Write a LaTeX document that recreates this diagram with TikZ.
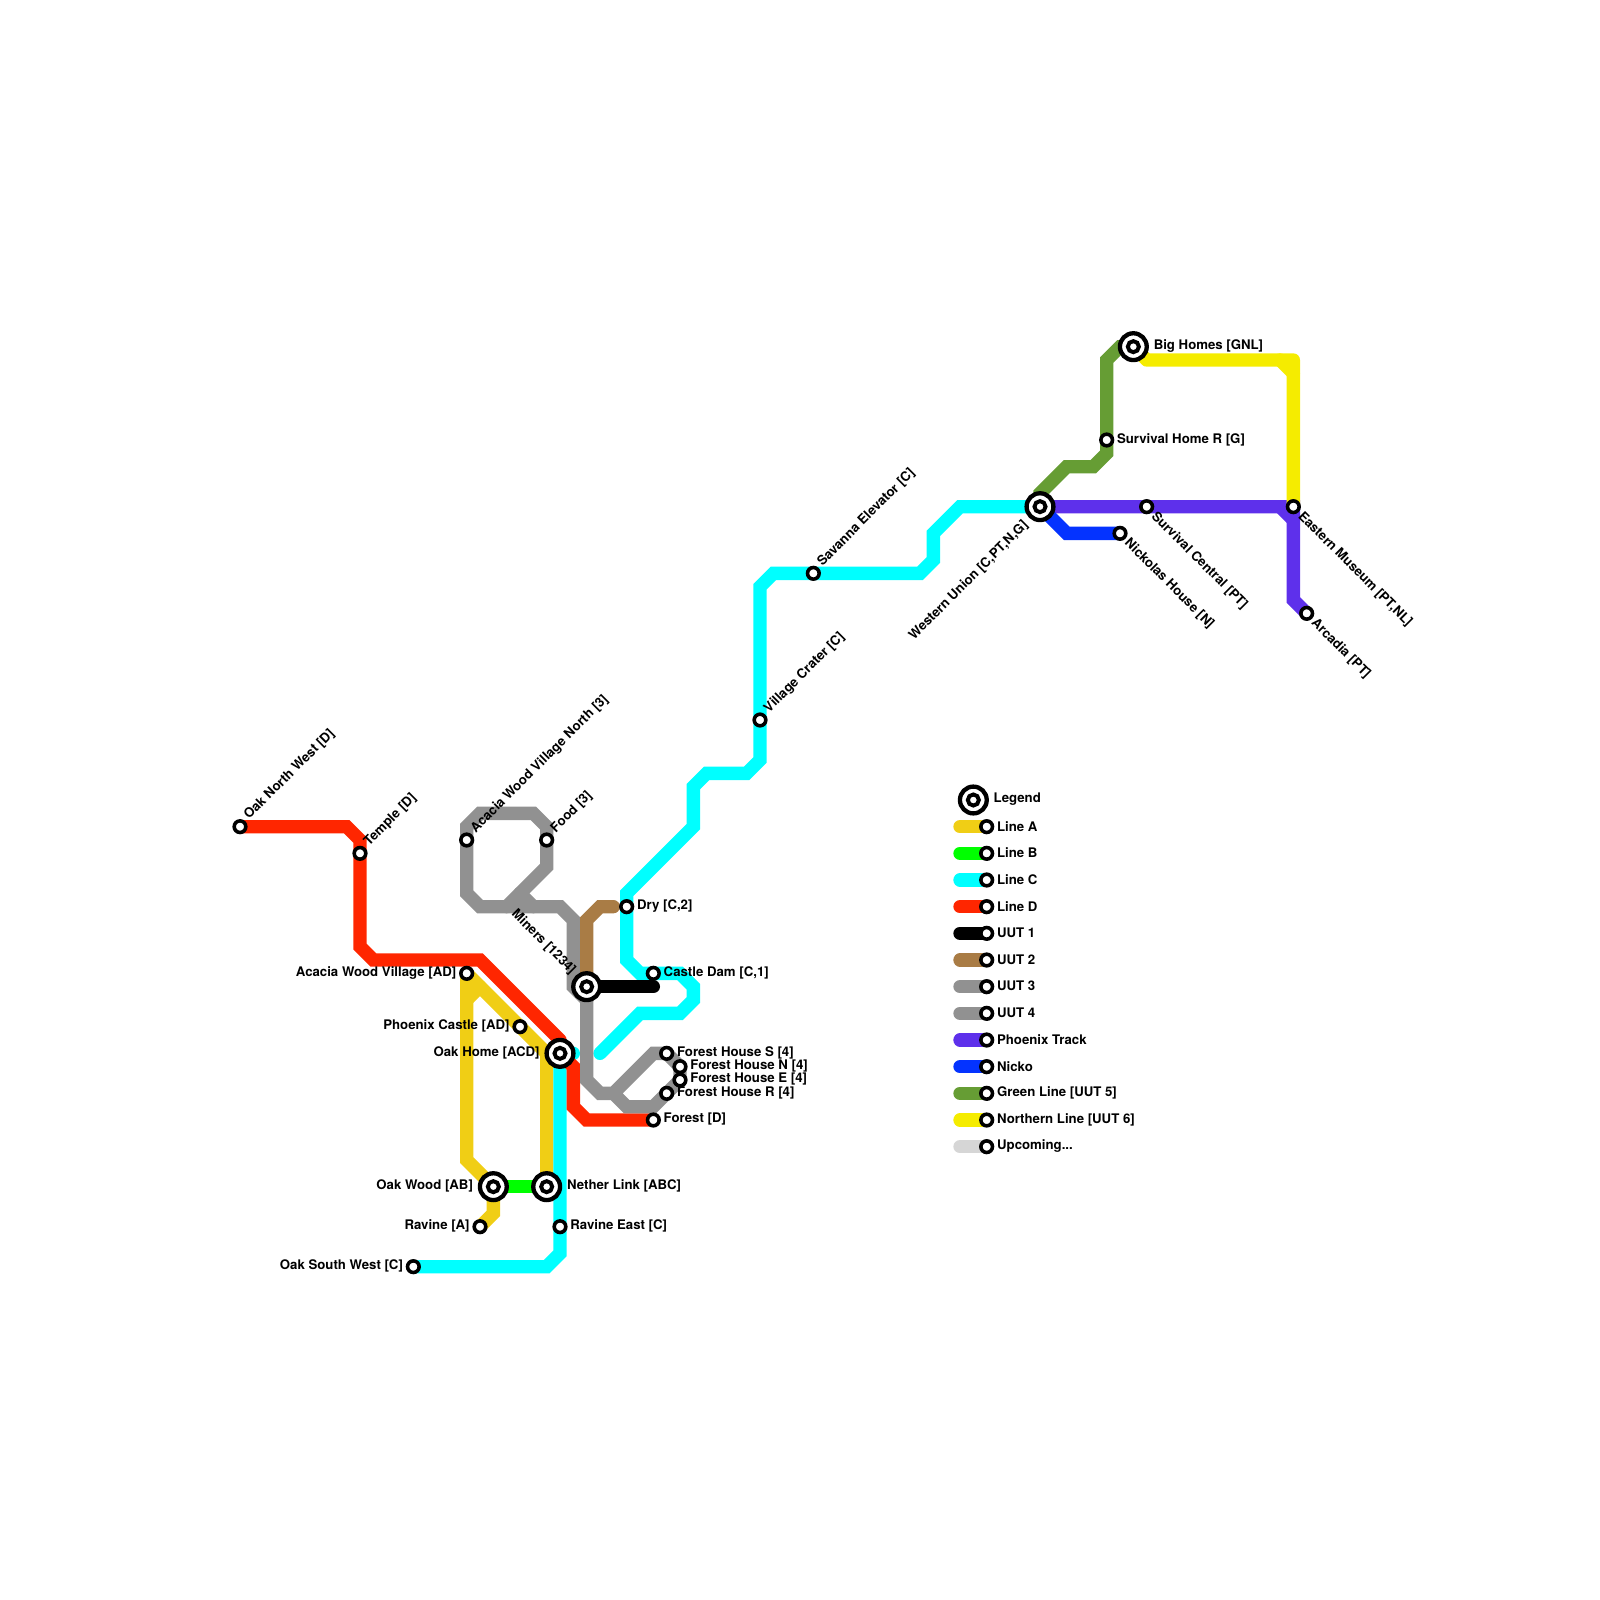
\documentclass[tikz,border=0pt]{standalone}
\usepackage{fontspec}
\setmainfont{TeX Gyre Heros}
\usetikzlibrary{backgrounds}

\definecolor{lineA}{HTML}{F0CE15}
\definecolor{lineB}{HTML}{00FF00}
\definecolor{lineC}{HTML}{00FFFF}
\definecolor{lineD}{HTML}{FF2600}
\definecolor{uutTwo}{HTML}{A97C45}
\definecolor{uutGray}{HTML}{919191}
\definecolor{phoenix}{HTML}{5E30EB}
\definecolor{nicko}{HTML}{0433FF}
\definecolor{greenLine}{HTML}{669D34}
\definecolor{northern}{HTML}{F5EC00}
\definecolor{upcoming}{HTML}{D6D6D6}

\tikzset{
  stop/.style={circle,draw=black,fill=white,line width=1.9pt,minimum size=6.2pt,inner sep=0pt,outer sep=0pt},
  hub/.style={circle,draw=black,fill=white,line width=2.3pt,minimum size=14.3pt,inner sep=0pt,outer sep=0pt},
  hubin/.style={stop,line width=2.1pt,minimum size=5.9pt},
  metro/.style={line width=.25cm,line cap=round,miter limit=4},
  txt/.style={inner sep=0pt,outer sep=0pt},
  lblE/.style={txt,anchor=west,shift={(.78,-.04)}},
  lblW/.style={txt,anchor=east,shift={(-.78,-.04)}},
  lblEE/.style={txt,anchor=west,shift={(1.53,-.04)}},
  lblWW/.style={txt,anchor=east,shift={(-1.53,-.04)}},
  lblNE/.style={txt,anchor=west,shift={(.5,-.7)},rotate=45},
  lblSE/.style={txt,anchor=west,shift={(.5,.6)},rotate=-45},
  lblNW/.style={txt,anchor=east,shift={(-1,-1.1)},rotate=-45},
  lblSW/.style={txt,anchor=east,shift={(-1.05,1.25)},rotate=45},
}

\begin{document}
\begin{tikzpicture}[x=.25cm,y=-.25cm,font=\bfseries\fontsize{7.05}{8}\selectfont]
  \useasboundingbox (0,0) rectangle (120,120);
  % plain stops
  \foreach \name/\x/\y/\title/\where in {
    oakNW/18/62/{Oak North West [D]}/lblNE,
    temple/27/64/{Temple [D]}/lblNE,
    acaciaN/35/63/{Acacia Wood Village North [3]}/lblNE,
    food/41/63/{Food [3]}/lblNE,
    dry/47/68/{Dry [C,2]}/lblE,
    castleDam/49/73/{Castle Dam [C,1]}/lblE,
    acacia/35/73/{Acacia Wood Village [AD]}/lblW,
    phoenixCastle/39/77/{Phoenix Castle [AD]}/lblW,
    forestS/50/79/{Forest House S [4]}/lblE,
    forestN/51/80/{Forest House N [4]}/lblE,
    forestE/51/81/{Forest House E [4]}/lblE,
    forestR/50/82/{Forest House R [4]}/lblE,
    forest/49/84/{Forest [D]}/lblE,
    ravine/36/92/{Ravine [A]}/lblW,
    ravineE/42/92/{Ravine East [C]}/lblE,
    oakSW/31/95/{Oak South West [C]}/lblW,
    crater/57/54/{Village Crater [C]}/lblNE,
    savanna/61/43/{Savanna Elevator [C]}/lblNE,
    survHome/83/33/{Survival Home R [G]}/lblE,
    survCentral/86/38/{Survival Central [PT]}/lblSE,
    nickolas/84/40/{Nickolas House [N]}/lblSE,
    eastern/97/38/{Eastern Museum [PT,NL]}/lblSE,
    arcadia/98/46/{Arcadia [PT]}/lblSE%
  } {
    \node[stop] (\name) at (\x,\y) {};
    \node[\where] (\name Txt) at (\name) {\title};
  }
  % interchanges
  \foreach \name/\x/\y/\title/\where in {
    miners/44/74/{Miners [1234]}/lblNW,
    oakHome/42/79/{Oak Home [ACD]}/lblWW,
    oakWood/37/89/{Oak Wood [AB]}/lblWW,
    netherLink/41/89/{Nether Link [ABC]}/lblEE,
    westUnion/78/38/{Western Union [C,PT,N,G]}/lblSW,
    bigHomes/85/26/{Big Homes [GNL]}/lblEE,
    legendHub/73/60/{Legend}/lblEE%
  } {
    \node[hub] (\name) at (\x,\y) {};
    \node[hubin] (\name In) at (\name) {};
    \node[\where] (\name Txt) at (\name) {\title};
  }
  % legend
  \foreach \name/\y/\col/\title in {
    keyA/62/lineA/{Line A},
    keyB/64/lineB/{Line B},
    keyC/66/lineC/{Line C},
    keyD/68/lineD/{Line D},
    keyOne/70/black/{UUT 1},
    keyTwo/72/uutTwo/{UUT 2},
    keyThree/74/uutGray/{UUT 3},
    keyFour/76/uutGray/{UUT 4},
    keyPhoenix/78/phoenix/{Phoenix Track},
    keyNicko/80/nicko/{Nicko},
    keyGreen/82/greenLine/{Green Line [UUT 5]},
    keyNorth/84/northern/{Northern Line [UUT 6]},
    keyNext/86/upcoming/{Upcoming...}%
  } {
    \node[stop] (\name) at (74,\y) {};
    \node[lblE] (\name Txt) at (\name) {\title};
    \begin{scope}[on background layer]
      \draw[metro,\col] (72,\y) -- (\name.center);
    \end{scope}
  }
  \begin{scope}[on background layer]
    % Line A
    \draw[metro,lineA] (acacia.center) -- (phoenixCastle.center) -- (41,79) -- (netherLink.center);
    \draw[metro,lineA] (acacia.center) -- (35,87) -- (oakWood.center) -- (37,91) -- (ravine.center);
    \draw[metro,lineA] (36,74) -- (35,75);
    % Line B
    \draw[metro,lineB] (oakWood.center) -- (netherLink.center);
    % Line C
    \draw[metro,lineC] (oakSW.center) -- (41,95) -- (42,94) -- (ravineE.center) -- (oakHome.center) -- (43,79);
    \draw[metro,lineC] (45,79) -- (48,76) -- (51,76) -- (52,75) -- (52,74) -- (51,73) -- (castleDam.center)
      -- (48,73) -- (47,72) -- (dry.center) -- (47,67) -- (52,62) -- (52,59) -- (53,58) -- (56,58)
      -- (57,57) -- (crater.center) -- (57,44) -- (58,43) -- (savanna.center) -- (69,43) -- (70,42)
      -- (70,40) -- (72,38) -- (westUnion.center);
    % Line D
    \draw[metro,lineD] (oakNW.center) -- (26,62) -- (27,63) -- (temple.center) -- (27,71) -- (28,72)
      -- (36,72) -- (42,78);
    \draw[metro,lineD] (oakHome.center) -- (43,80) -- (43,83) -- (44,84) -- (forest.center);
    % UUT 3 and 4
    \draw[metro,uutGray] (acaciaN.center) -- (35,62) -- (36,61) -- (40,61) -- (41,62) -- (food.center)
      -- (41,65) -- (38,68);
    \draw[metro,uutGray] (acaciaN.center) -- (35,67) -- (36,68) -- (42,68) -- (43,69) -- (43,74) -- (44,75);
    \draw[metro,uutGray] (39,67) -- (40,68);
    \draw[metro,uutGray] (miners.center) -- (44,81) -- (45,82) -- (46,82) -- (49,79) -- (forestS.center)
      -- (forestN.center) -- (forestE.center) -- (forestR.center) -- (49,83) -- (47,83) -- (46,82);
    % UUT 2
    \draw[metro,uutTwo] (46,68) -- (45,68) -- (44,69) -- (miners.center);
    % UUT 1
    \draw[metro,black] (miners.center) -- (49,74);
    % Phoenix Track
    \draw[metro,phoenix] (westUnion.center) -- (survCentral.center) -- (eastern.center) -- (97,45) -- (arcadia.center);
    \draw[metro,phoenix] (96,38) -- (97,39);
    % Nicko
    \draw[metro,nicko] (westUnion.center) -- (80,40) -- (nickolas.center);
    % Green Line
    \draw[metro,greenLine] (westUnion.center) -- (78,37) -- (80,35) -- (82,35) -- (83,34)
      -- (survHome.center) -- (83,27) -- (84,26) -- (bigHomes.center);
    % Northern Line
    \draw[metro,northern,line join=round] (bigHomes.center) -- (86,27) -- (97,27) -- (eastern.center);
    \draw[metro,northern] (96,27) -- (97,28);
  \end{scope}
\end{tikzpicture}
\end{document}
